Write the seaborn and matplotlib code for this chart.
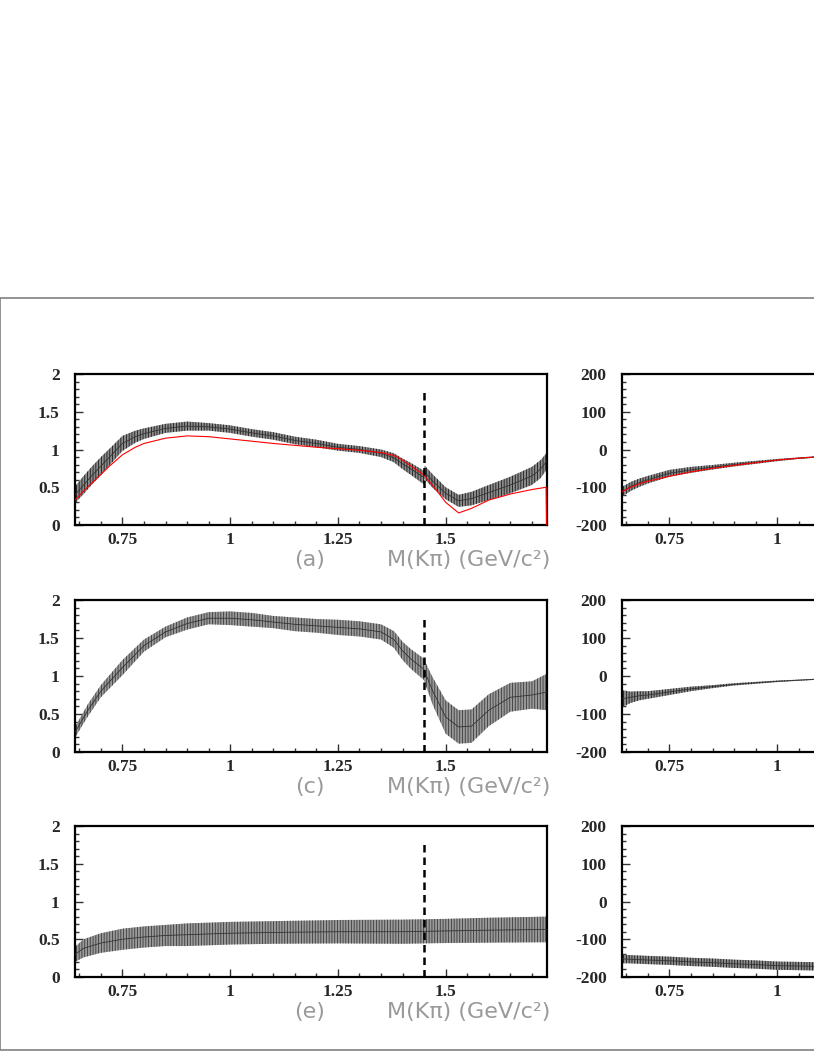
import numpy as np
import pandas as pd
import matplotlib
matplotlib.use("Agg")
import matplotlib.pyplot as plt
import seaborn as sns
from matplotlib.patches import Rectangle
from matplotlib.ticker import MultipleLocator

# ------------------------------------------
# values
# ------------------------------------------
# (a) amplitude band, fit curve (red)
mass_a = [0.64, 0.66, 0.68, 0.70, 0.72, 0.75, 0.78, 0.80, 0.85, 0.90, 0.95, 1.00,
          1.05, 1.10, 1.15, 1.20, 1.25, 1.30, 1.35, 1.38, 1.40, 1.42, 1.449,
          1.451, 1.47, 1.50, 1.53, 1.56, 1.60, 1.65, 1.70, 1.72, 1.735]
amp_a = [0.40, 0.53, 0.66, 0.78, 0.90, 1.08, 1.17, 1.21, 1.28, 1.31, 1.30, 1.27,
         1.22, 1.18, 1.12, 1.08, 1.03, 1.00, 0.95, 0.89, 0.81, 0.74, 0.63,
         0.70, 0.58, 0.42, 0.32, 0.35, 0.43, 0.53, 0.65, 0.74, 0.85]
amp_a_err = [0.11, 0.12, 0.12, 0.12, 0.11, 0.10, 0.08, 0.07, 0.06, 0.06, 0.05, 0.05,
             0.05, 0.05, 0.05, 0.05, 0.045, 0.045, 0.05, 0.06, 0.07, 0.08, 0.09,
             0.09, 0.09, 0.08, 0.08, 0.09, 0.10, 0.11, 0.12, 0.12, 0.11]
red_mass_a = [0.64, 0.66, 0.68, 0.70, 0.72, 0.75, 0.78, 0.80, 0.85, 0.90, 0.95,
              1.00, 1.10, 1.20, 1.30, 1.35, 1.38, 1.40, 1.42, 1.45, 1.48, 1.50,
              1.53, 1.56, 1.60, 1.65, 1.70, 1.733, 1.734]
red_amp_a = [0.33, 0.45, 0.56, 0.67, 0.78, 0.93, 1.03, 1.08, 1.15, 1.18, 1.17,
             1.14, 1.08, 1.03, 0.99, 0.96, 0.92, 0.86, 0.78, 0.66, 0.45, 0.30,
             0.16, 0.22, 0.33, 0.41, 0.47, 0.50, 0.0]

# (c) amplitude band
mass_c = [0.64, 0.67, 0.70, 0.75, 0.80, 0.85, 0.90, 0.95, 1.00, 1.05, 1.10, 1.15,
          1.20, 1.25, 1.30, 1.35, 1.38, 1.40, 1.42, 1.449, 1.451, 1.47, 1.50,
          1.53, 1.56, 1.60, 1.65, 1.70, 1.735]
amp_c = [0.26, 0.55, 0.80, 1.11, 1.40, 1.58, 1.69, 1.76, 1.76, 1.74, 1.71, 1.68,
         1.66, 1.64, 1.62, 1.58, 1.48, 1.33, 1.22, 1.09, 1.06, 0.80, 0.46,
         0.33, 0.34, 0.55, 0.72, 0.75, 0.79]
amp_c_err = [0.07, 0.08, 0.08, 0.10, 0.08, 0.07, 0.08, 0.08, 0.09, 0.09, 0.08, 0.09,
             0.09, 0.10, 0.10, 0.10, 0.11, 0.12, 0.13, 0.14, 0.14, 0.18, 0.22,
             0.22, 0.22, 0.21, 0.19, 0.18, 0.24]

# (e) amplitude band
mass_e = [0.64, 0.66, 0.70, 0.75, 0.80, 0.85, 0.90, 1.00, 1.10, 1.25, 1.40, 1.50,
          1.60, 1.735]
amp_e = [0.30, 0.38, 0.45, 0.50, 0.53, 0.55, 0.56, 0.58, 0.59, 0.60, 0.60, 0.61,
         0.62, 0.63]
amp_e_err = [0.10, 0.12, 0.13, 0.14, 0.14, 0.14, 0.15, 0.15, 0.15, 0.155, 0.16,
             0.16, 0.165, 0.17]

# right column: phases (degrees), only the visible part
mass_r = [0.64, 0.66, 0.68, 0.70, 0.75, 0.80, 0.85, 0.90, 0.95, 1.00, 1.05, 1.10]
phase_a = [-112, -98, -88, -80, -63, -54, -47, -40, -34, -28, -23, -19]
phase_a_err = [13, 12, 11, 10, 9, 8, 6, 5, 4, 3, 2, 2]
red_phase_a = [-112, -100, -91, -84, -71, -59, -50, -42, -35, -28, -23, -19]
phase_c = [-60, -56, -52, -50, -42, -34, -28, -22, -18, -14, -11, -8]
phase_c_err = [22, 15, 12, 10, 8, 6, 4, 3, 2.5, 2, 1.5, 1.5]
phase_e = [-152, -153, -154, -155, -157, -160, -162, -165, -167, -170, -171, -172]
phase_e_err = [11, 11, 11, 11, 11, 11, 11, 11, 11, 11, 11, 11]

amp_ticks = [0, 0.5, 1, 1.5, 2]
phase_ticks = [-200, -100, 0, 100, 200]
mass_ticks = [0.75, 1, 1.25, 1.5]
mass_labels = ["0.75", "1", "1.25", "1.5"]
panel_names = ["(a)", "(c)", "(e)"]
axis_title = "M(Kπ) (GeV/c²)"
threshold = 1.45

sns.set_style("white")
plt.rcParams['font.family'] = ['Liberation Serif', 'DejaVu Serif']
plt.rcParams['hatch.linewidth'] = 0.6

W, H = 814, 1053
fig = plt.figure(figsize=(W / 100, H / 100), dpi=100)

# outer gray frame
fig.patches.append(Rectangle((0.0005, 3 / H), 1.2, 1 - 298 / H - 3 / H,
                             transform=fig.transFigure, fill=False,
                             edgecolor='#808080', lw=1.2))

rows = [(374, 525), (600, 752), (826, 977)]
left_x, right_x, ax_w = 75, 622, 472


def frame_axes(ax, ylim, yticks, ymin_step, nticks):
    ax.set_xlim(0.64, 1.735)
    ax.set_ylim(*ylim)
    ax.set_xticks(mass_ticks[:nticks])
    ax.set_xticklabels(mass_labels[:nticks])
    ax.set_yticks(yticks)
    ax.set_yticklabels([f"{t:g}" for t in yticks])
    ax.xaxis.set_minor_locator(MultipleLocator(0.05))
    ax.yaxis.set_minor_locator(MultipleLocator(ymin_step))
    ax.tick_params(which='both', direction='in', top=False, right=False,
                   left=True, bottom=True, width=1.0, color='#333333')
    ax.tick_params(which='major', length=6, labelsize=12.5)
    ax.tick_params(axis='x', which='major', pad=5)
    ax.tick_params(axis='y', which='major', pad=11)
    ax.tick_params(which='minor', length=3)
    for lab in ax.get_xticklabels() + ax.get_yticklabels():
        lab.set_fontweight('bold')
    for sp in ax.spines.values():
        sp.set_linewidth(1.6)
        sp.set_color('black')
    ax.set_xlabel("")
    ax.set_ylabel("")


def band(ax, x, y, err, face, hatch_col):
    y = np.asarray(y, float)
    err = np.asarray(err, float)
    ax.fill_between(x, y - err, y + err, facecolor=face, edgecolor=hatch_col,
                    hatch='||||||', lw=0, zorder=2)
    sns.lineplot(x=x, y=y, ax=ax, color='#333333', lw=0.6, estimator=None,
                 sort=False, zorder=3)


amp_sets = [(mass_a, amp_a, amp_a_err, '#8c8c8c', '#1a1a1a'),
            (mass_c, amp_c, amp_c_err, '#9a9a9a', '#3a3a3a'),
            (mass_e, amp_e, amp_e_err, '#9a9a9a', '#3a3a3a')]
phase_sets = [(phase_a, phase_a_err), (phase_c, phase_c_err),
              (phase_e, phase_e_err)]

for i, (top, bot) in enumerate(rows):
    b = 1 - bot / H
    h = (bot - top) / H
    # left: amplitude
    ax = fig.add_axes([left_x / W, b, ax_w / W, h])
    mx, my, me, fc, hc = amp_sets[i]
    band(ax, mx, my, me, fc, hc)
    if i == 0:
        sns.lineplot(x=red_mass_a, y=red_amp_a, ax=ax, color='red', lw=0.8,
                     estimator=None, sort=False, zorder=4)
    ax.vlines(threshold, 0, 1.78, colors='black', linestyles=(0, (3, 2)),
              lw=1.8, zorder=5)
    frame_axes(ax, (0, 2), amp_ticks, 0.1, 4)

    # right: phase (cut off by the page edge)
    axr = fig.add_axes([right_x / W, b, ax_w / W, h])
    py, pe = phase_sets[i]
    band(axr, mass_r, py, pe, '#8c8c8c', '#1a1a1a')
    if i == 0:
        sns.lineplot(x=mass_r, y=red_phase_a, ax=axr, color='red', lw=0.8,
                     estimator=None, sort=False, zorder=4)
    frame_axes(axr, (-200, 200), phase_ticks, 20, 2)

    # panel captions
    ty = 1 - (bot + 35) / H
    fig.text(310 / W, ty, panel_names[i], ha='center', va='center',
             fontsize=16, color='#9a9a9a', family=['DejaVu Sans'])
    fig.text(550 / W, ty, axis_title, ha='right', va='center',
             fontsize=16, color='#9a9a9a', family=['DejaVu Sans'])

fig.savefig("out.png", dpi=100)
plt.close(fig)
